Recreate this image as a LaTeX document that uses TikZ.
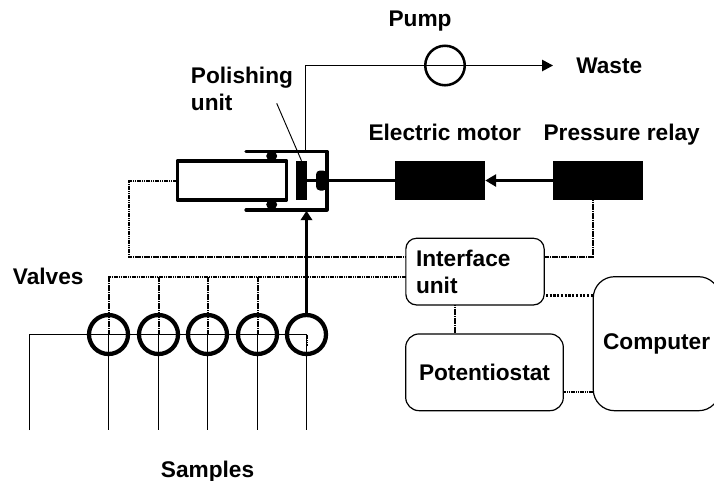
\documentclass[tikz,border=0pt]{standalone}
\usepackage{fontspec}
\setmainfont{Liberation Sans}
\usetikzlibrary{arrows.meta,calc,shapes.geometric}
\tikzset{
  x=.75pt,y=-.75pt,
  txt/.style={font=\fontsize{17}{20.5}\selectfont\bfseries,inner sep=0pt,anchor=base west},
  panel/.style={draw,line width=.9pt,font=\fontsize{17}{20.5}\selectfont\bfseries,inner sep=0pt},
  blackbox/.style={fill=black,draw=none,inner sep=0pt,minimum width=90*.75pt,minimum height=39*.75pt},
  valve/.style={circle,draw,line width=3.2pt,inner sep=0pt,minimum size=39*.75pt},
  pumpc/.style={circle,draw,line width=1.9pt,inner sep=0pt,minimum size=39.5*.75pt},
  pipe/.style={line width=1.1pt},
  sig/.style={line width=1.5pt,dash pattern=on 1pt off .35pt},
  sigdots/.style={line width=2.4pt,dash pattern=on 1.6pt off 1.2pt},
  wall/.style={line width=2.4pt,line cap=round,line join=round},
  oring/.style={ellipse,fill=black,inner sep=0pt,minimum width=11*.75pt,minimum height=10*.75pt},
}
\begin{document}
\begin{tikzpicture}
\useasboundingbox (0,0) rectangle (714,480);
\clip (0,0) rectangle (714,480);
% housing and inner parts
\node[draw,wall,inner sep=0pt,minimum width=109.5*.75pt,minimum height=39*.75pt] (probe) at (232,180.5) {};
\node[oring] (ringt) at (271.7,156) {};
\node[oring] (ringb) at (271.7,204.5) {};
\node[fill=black,inner sep=0pt,minimum width=11*.75pt,minimum height=39*.75pt] (disc) at (301.5,180.5) {};
\node[fill=black,rounded corners=3pt,inner sep=0pt,minimum width=11*.75pt,minimum height=20*.75pt] (bump) at (321.5,180.5) {};
\coordinate (hta) at (246,151.3);
\coordinate (htb) at (327,151.3);
\coordinate (hba) at (246,210);
\coordinate (hbb) at (327,210);
\draw[wall] (hta) -- (htb) -- (hbb) -- (hba);
% black boxes
\node[blackbox] (motor) at (440,180.5) {};
\node[blackbox] (relay) at (598.3,180.5) {};
\draw[line width=2.8pt] (disc.center) -- (motor.center);
\draw[line width=2.8pt,-{Triangle[length=8.2pt,width=9pt]}] (relay.west) -- (motor.east);
% rounded panels
\node[panel,rounded corners=8pt,minimum width=138.3*.75pt,minimum height=66.7*.75pt,text width=118*.75pt,align=left] (iface) at (475,271.6) {Interface\\unit};
\node[panel,rounded corners=10pt,minimum width=157.6*.75pt,minimum height=76.7*.75pt] (pstat) at (484.5,372.3) {Potentiostat};
\node[panel,rounded corners=16pt,minimum width=126.7*.75pt,minimum height=134*.75pt] (comp) at (656.6,343.7) {Computer};
% pump line
\node[pumpc] (pump) at (445,65.5) {};
\coordinate (celltop) at (305.5,151.3);
\coordinate (wasteend) at (553,65.5);
\draw[pipe] (celltop) |- (pump.center);
\draw[pipe,-{Triangle[length=8.2pt,width=8.5pt]}] (pump.center) -- (wasteend);
% valves
\foreach \n/\xx in {1/108.5,2/158.5,3/207.5,4/257.5,5/306.5}{
  \node[valve] (v\n) at (\xx,334.5) {};
  \coordinate (s\n) at (\xx,430);
  \draw[pipe] (v\n.center) -- (s\n);
}
\coordinate (s0) at (29.5,430);
\draw[pipe] (s0) |- (v5.center);
% flow into the cell
\coordinate (cellin) at (306.5,210.8);
\draw[line width=1.9pt,-{Triangle[length=7pt,width=8.5pt]}] (v5.north) -- (cellin);
% signal wiring
\coordinate (busL) at (108.5,276.5);
\coordinate (busR) at ($(iface.west |- busL)$);
\draw[sig] (v1.center) -- (busL) -- (busR);
\foreach \n in {2,3,4}{ \draw[sig] (v\n.center) -- (v\n |- busL); }
\draw[sig] (v5.center) -- ++(0,11);
\coordinate (probeR) at (128.5,256.8);
\draw[sig] (probe.west) -| (probeR) -- (probeR -| iface.west);
\coordinate (relayC) at (593.3,200);
\draw[sig] (relayC) |- (iface.east |- probeR);
\coordinate (ifaceDown) at (454.7,305);
\draw[sig] (ifaceDown) -- (ifaceDown |- pstat.north);
\coordinate (pcA) at (563.3,391.8);
\draw[sig] (pcA) -- (pcA -| comp.west);
\coordinate (icA) at (546,295.7);
\draw[sigdots] (icA) -- (icA -| comp.west);
% pointer
\coordinate (polptr) at (276.7,103.3);
\draw[line width=.7pt] (polptr) -- (disc.north);
% labels
\node[txt] (lpump) at (388.3,26) {Pump};
\node[txt] (lwaste) at (576,73) {Waste};
\node[txt] (lmotor) at (368.3,140.7) {Electric motor};
\node[txt] (lrelay) at (543.3,140.7) {Pressure relay};
\node[txt] (lpol) at (190.7,83.3) {Polishing};
\node[txt] (lunit) at (190.7,110) {unit};
\node[txt] (lvalves) at (12.7,284.3) {Valves};
\node[txt] (lsamples) at (160.7,477) {Samples};
\end{tikzpicture}
\end{document}
